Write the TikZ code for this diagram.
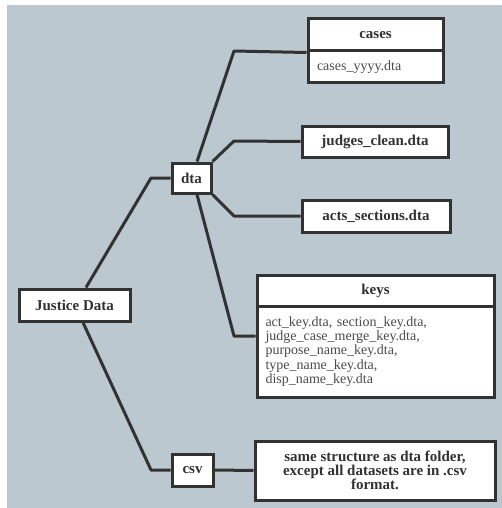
\documentclass[tikz,border=0pt]{standalone}
\usepackage{fontspec}
\setmainfont{Liberation Serif}
\definecolor{bg}{RGB}{187,200,208}
\definecolor{lc}{RGB}{50,50,50}
\definecolor{tc}{RGB}{50,50,50}
\definecolor{bc}{RGB}{75,75,75}
\begin{document}
\begin{tikzpicture}[x=1pt,y=-1pt,
  box/.style={draw=lc, line width=3pt, fill=white, inner sep=0pt, text=tc,
    font=\bfseries\fontsize{15}{13.8}\selectfont, align=center},
  body/.style={draw=lc, line width=3pt, fill=white, inner sep=0pt, text=bc,
    font=\fontsize{14}{14.4}\selectfont, align=left},
  conn/.style={draw=lc, line width=3pt, line join=round}]
\useasboundingbox (0,0) rectangle (502,508);
\fill[bg] (7,5) rectangle (502,508);
% bend points
\coordinate (bc) at (234,51);
\coordinate (bj) at (234,141);
\coordinate (ba) at (234,216);
\coordinate (bk) at (234,336);
\coordinate (bd) at (151,178);
\coordinate (bv) at (151,470);
% nodes
\node[box, minimum width=135pt, minimum height=32pt] (cases) at (375.5,35) {cases};
\node[body, minimum width=135pt, minimum height=32pt, text width=117pt] (casesbody) at (375.5,67) {cases\_yyyy.dta};
\node[box, minimum width=146pt, minimum height=31pt] (judges) at (375,141.5) {judges\_clean.dta};
\node[box, minimum width=148pt, minimum height=32pt] (acts) at (376,216) {acts\_sections.dta};
\node[box, minimum width=39pt, minimum height=30pt] (dta) at (191.5,178) {dta};
\node[box, minimum width=237pt, minimum height=31pt] (keys) at (375.5,290.5) {keys};
\node[body, minimum width=237pt, minimum height=91pt, text width=220pt] (keysbody) at (375.5,351.5)
  {act\_key.dta, section\_key.dta,\\judge\_case\_merge\_key.dta,\\purpose\_name\_key.dta,\\type\_name\_key.dta,\\disp\_name\_key.dta};
\node[box, minimum width=111pt, minimum height=32pt] (jd) at (74.5,305) {Justice Data};
\node[box, minimum width=41pt, minimum height=32pt] (csv) at (192.5,470) {csv};
\node[box, minimum width=240pt, minimum height=59pt] (same) at (375,470.5)
  {same structure as dta folder,\\except all datasets are in .csv\\format.};
% connectors
\draw[conn] ([xshift=5.5pt]dta.north) -- (bc) -- (cases.south west);
\draw[conn] (dta.north east) -- (bj) -- (judges.west);
\draw[conn] (dta.south east) -- (ba) -- (acts.west);
\draw[conn] ([xshift=5.5pt]dta.south) -- (bk) -- (bk -| keysbody.west);
\draw[conn] ([xshift=11.5pt]jd.north) -- (bd) -- (dta.west);
\draw[conn] ([xshift=8.5pt]jd.south) -- (bv) -- (csv.west);
\draw[conn] (csv.east) -- (same.west);
\end{tikzpicture}
\end{document}
